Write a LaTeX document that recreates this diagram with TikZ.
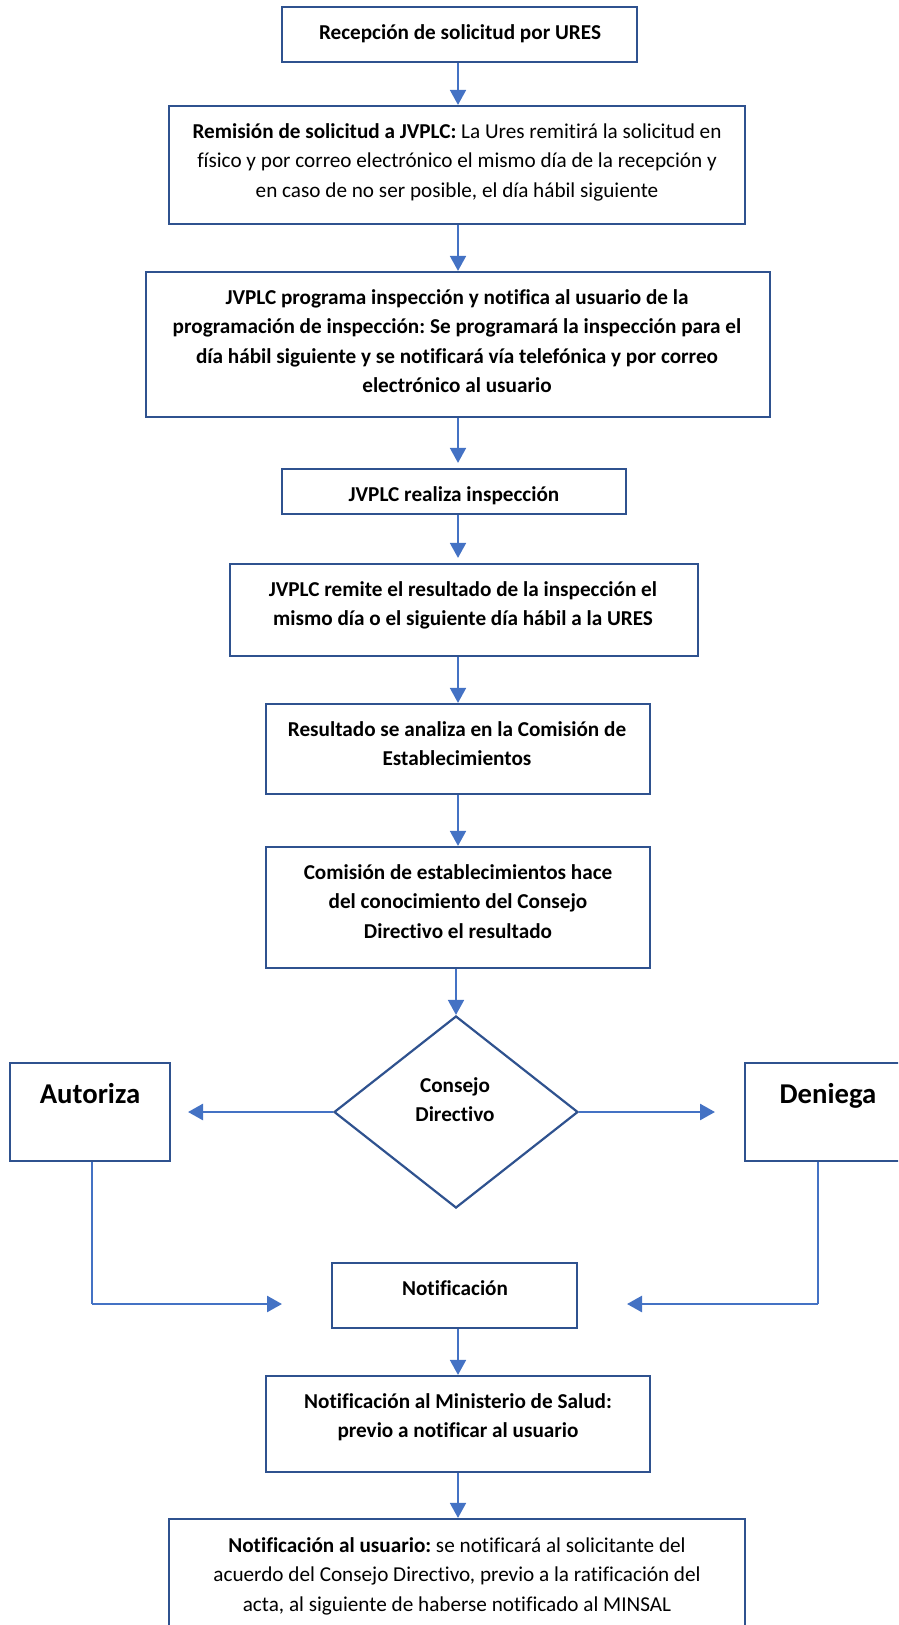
\documentclass[tikz,border=0pt]{standalone}
\usepackage{fontspec}
\setmainfont{Carlito}[Ligatures={NoCommon}]
\usetikzlibrary{arrows.meta,shapes.geometric}
\definecolor{boxblue}{HTML}{2F528F}
\definecolor{arrblue}{HTML}{4472C4}
\newcommand\fsnorm{\fontsize{21.2pt}{29.5pt}\selectfont\frenchspacing}
\newcommand\fsbig{\fontsize{28.7pt}{34pt}\selectfont}
\tikzset{
  boxnode/.style={draw=boxblue, line width=2.2pt, rectangle, inner sep=0pt, fill=white},
  dianode/.style={draw=boxblue, line width=2.2pt, diamond, inner sep=0pt, fill=white},
  txt/.style={anchor=north, inner sep=0pt, align=center, font=\fsnorm, text=black},
  bigtxt/.style={anchor=base, inner sep=0pt, font=\fsbig\bfseries, text=black},
  varrow/.style={draw=arrblue, line width=1.8pt, -{Triangle[length=15pt,width=16pt]}},
  harrow/.style={draw=arrblue, line width=2.6pt, -{Triangle[length=15pt,width=16pt]}},
  vline/.style={draw=arrblue, line width=1.6pt},
}
\begin{document}
\begin{tikzpicture}[x=1pt, y=-1pt]
\useasboundingbox (0,0) rectangle (898,1625);
\clip (0,0) rectangle (898,1625);
\fill[white] (0,0) rectangle (898,1625);
\coordinate (col) at (458,0);

% boxes
\node[boxnode, minimum width=355pt, minimum height=55pt] (b1) at (459.5,34.5) {};
\node[boxnode, minimum width=576pt, minimum height=118pt] (b2) at (457,165) {};
\node[boxnode, minimum width=624pt, minimum height=145pt] (b3) at (458,344.5) {};
\node[boxnode, minimum width=344pt, minimum height=45pt] (b4) at (454,491.5) {};
\node[boxnode, minimum width=468pt, minimum height=92pt] (b5) at (464,610) {};
\node[boxnode, minimum width=384pt, minimum height=90pt] (b6) at (458,749) {};
\node[boxnode, minimum width=384pt, minimum height=121pt] (b7) at (458,907.5) {};
\node[dianode, minimum width=244pt, minimum height=192pt] (dia) at (456,1112) {};
\node[boxnode, minimum width=160pt, minimum height=98pt] (aut) at (90,1112) {};
\node[boxnode, minimum width=166pt, minimum height=98pt] (den) at (828,1112) {};
\node[boxnode, minimum width=245pt, minimum height=65pt] (notif) at (454.5,1295.5) {};
\node[boxnode, minimum width=384pt, minimum height=96pt] (b9) at (458,1424) {};
\node[boxnode, minimum width=576pt, minimum height=122pt] (b10) at (457,1580) {};

% texts
\node[txt] (t1) at (460,18.35) {\strut\bfseries Recepción de solicitud por URES};
\node[txt] (t2) at (457,117.35) {\strut\textbf{Remisión de solicitud a JVPLC:} La Ures remitirá la solicitud en\\
físico y por correo electrónico el mismo día de la recepción y\\
en caso de no ser posible, el día hábil siguiente};
\node[txt, font=\fsnorm\bfseries] (t3) at (457,283.35) {\strut JVPLC programa inspección y notifica al usuario de la\\
programación de inspección: Se programará la inspección para el\\
día hábil siguiente y se notificará vía telefónica y por correo\\
electrónico al usuario};
\node[txt, font=\fsnorm\bfseries] (t4) at (454,480.35) {\strut JVPLC realiza inspección};
\node[txt, font=\fsnorm\bfseries] (t5) at (463,575.35) {\strut JVPLC remite el resultado de la inspección el\\
mismo día o el siguiente día hábil a la URES};
\node[txt, font=\fsnorm\bfseries] (t6) at (457,715.35) {\strut Resultado se analiza en la Comisión de\\
Establecimientos};
\node[txt, font=\fsnorm\bfseries] (t7) at (458,858.35) {\strut Comisión de establecimientos hace\\
del conocimiento del Consejo\\
Directivo el resultado};
\node[txt, font=\fsnorm\bfseries] (td) at (455,1071.35) {\strut Consejo\\ Directivo};
\node[bigtxt] (ta) at (90,1103) {Autoriza};
\node[bigtxt] (tn) at (828,1103) {Deniega};
\node[txt, font=\fsnorm\bfseries] (t8) at (455,1274.35) {\strut Notificación};
\node[txt, font=\fsnorm\bfseries] (t9) at (458,1387.35) {\strut Notificación al Ministerio de Salud:\\
previo a notificar al usuario};
\node[txt] (t10) at (457,1531.35) {\strut\textbf{Notificación al usuario:} se notificará al solicitante del\\
acuerdo del Consejo Directivo, previo a la ratificación del\\
acta, al siguiente de haberse notificado al MINSAL};

% vertical arrows
\draw[varrow] (b1.south -| col) -- (b2.north -| col);
\draw[varrow] (b2.south -| col) -- (b3.north -| col);
\draw[varrow] (b3.south -| col) -- ([yshift=5pt]b4.north -| col);
\draw[varrow] (b4.south -| col) -- ([yshift=5pt]b5.north -| col);
\draw[varrow] (b5.south -| col) -- (b6.north -| col);
\draw[varrow] (b6.south -| col) -- (b7.north -| col);
\draw[varrow] (b7.south -| dia.north) -- (dia.north);
\draw[varrow] (notif.south -| col) -- (b9.north -| col);
\draw[varrow] (b9.south -| col) -- (b10.north -| col);

% decision arrows
\coordinate (aL) at (188,1112);
\coordinate (aR) at (715,1112);
\draw[harrow] (dia.west) -- (aL);
\draw[harrow] (dia.east) -- (aR);

% return connectors
\coordinate (ac) at (92,1304);
\coordinate (nL) at (282,1304);
\coordinate (dc) at (818,1304);
\coordinate (nR) at (627,1304);
\draw[vline] (aut.south -| ac) -- (ac);
\draw[harrow] (ac) -- (nL);
\draw[vline] (den.south -| dc) -- (dc);
\draw[harrow] (dc) -- (nR);
\end{tikzpicture}
\end{document}
